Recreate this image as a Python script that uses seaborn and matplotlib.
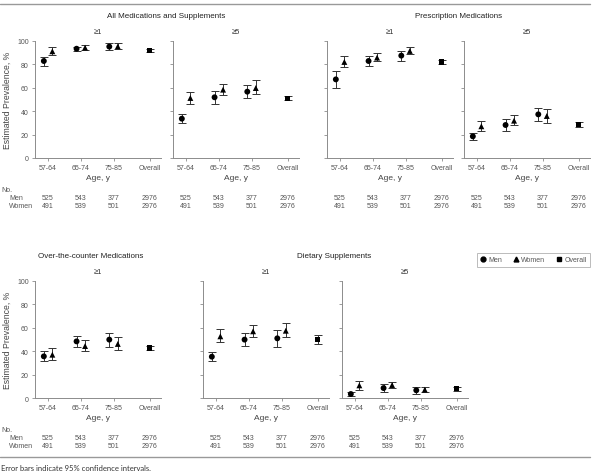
import matplotlib
matplotlib.use("Agg")
import matplotlib.pyplot as plt
import matplotlib.transforms as mtransforms
from matplotlib.lines import Line2D
import pandas as pd
import seaborn as sns

ages = ["57-64", "65-74", "75-85"]
tick_labels = ages + ["Overall"]
n_men = [525, 543, 377, 2976]
n_women = [491, 539, 501, 2976]

# (estimate, lower 95% CI, upper 95% CI) per age group
all1_men = [(82.9, 78.9, 86.6), (93.4, 91.7, 94.9), (95.2, 92.3, 98.0)]
all1_women = [(91.2, 88.3, 94.6), (94.3, 92.3, 96.9), (95.4, 93.4, 98.0)]
all1_overall = (91.7, 90.3, 92.9)

all5_men = [(33.6, 29.6, 37.6), (51.9, 46.2, 57.3), (56.7, 51.6, 62.4)]
all5_women = [(51.3, 46.2, 56.7), (58.4, 53.8, 63.0), (59.8, 54.7, 66.4)]
all5_overall = (51.0, 49.3, 52.7)

rx1_men = [(67.2, 59.8, 74.4), (82.9, 78.9, 86.9), (87.5, 82.9, 91.7)]
rx1_women = [(82.1, 77.8, 87.2), (85.8, 82.6, 89.5), (91.5, 88.9, 94.6)]
rx1_overall = (82.1, 80.1, 83.8)

rx5_men = [(18.5, 15.1, 21.7), (28.2, 22.8, 33.3), (37.3, 31.9, 42.7)]
rx5_women = [(27.1, 23.1, 31.9), (31.9, 27.9, 36.5), (35.9, 30.2, 42.2)]
rx5_overall = (28.8, 26.8, 30.8)

otc1_men = [(35.6, 31.3, 40.5), (48.4, 43.6, 53.0), (49.9, 43.9, 55.8)]
otc1_women = [(37.0, 32.5, 42.7), (44.4, 40.5, 49.6), (46.2, 41.3, 51.9)]
otc1_overall = (42.7, 40.7, 44.7)

ds1_men = [(35.3, 31.6, 39.0), (49.9, 44.2, 55.8), (51.0, 43.6, 57.8)]
ds1_women = [(52.7, 47.9, 59.3), (57.0, 52.1, 62.7), (57.5, 51.9, 63.8)]
ds1_overall = (49.9, 46.4, 53.6)

ds5_men = [(3.4, 1.7, 5.1), (8.5, 5.1, 12.0), (6.6, 3.7, 9.4)]
ds5_women = [(10.8, 7.1, 14.2), (11.1, 8.5, 13.4), (7.1, 4.8, 9.7)]
ds5_overall = (8.0, 6.3, 9.4)

sns.set_theme(style="ticks")
plt.rcParams["font.family"] = ["Liberation Sans", "DejaVu Sans"]

W, H = 600, 477
fig = plt.figure(figsize=(6, 4.77), dpi=100)

GRAY = "#8c8c8c"
TXT = "#555555"
xpos = [0, 1, 2, 3.1]
dodge = 0.13


def rect(left, top, right, bottom):
    return [left / W, 1 - bottom / H, (right - left) / W, (bottom - top) / H]


panels = [
    ("≥1", all1_men, all1_women, all1_overall, rect(35, 42, 161, 159), True),
    ("≥5", all5_men, all5_women, all5_overall, rect(173, 42, 299, 159), False),
    ("≥1", rx1_men, rx1_women, rx1_overall, rect(327, 42, 453, 159), False),
    ("≥5", rx5_men, rx5_women, rx5_overall, rect(464, 42, 590, 159), False),
    ("≥1", otc1_men, otc1_women, otc1_overall, rect(35, 282, 161, 399), True),
    ("≥1", ds1_men, ds1_women, ds1_overall, rect(203, 282, 329, 399), False),
    ("≥5", ds5_men, ds5_women, ds5_overall, rect(342, 282, 468, 399), False),
]

for i, (sub, men, women, overall, r, first) in enumerate(panels):
    ax = fig.add_axes(r)
    rows = []
    for k, v in enumerate(men):
        rows.append(("Men", xpos[k] - dodge, *v))
    for k, v in enumerate(women):
        rows.append(("Women", xpos[k] + dodge, *v))
    rows.append(("Overall", xpos[3], *overall))
    df = pd.DataFrame(rows, columns=["group", "x", "est", "lo", "hi"])

    ax.errorbar(df["x"], df["est"], yerr=[df["est"] - df["lo"], df["hi"] - df["est"]],
                fmt="none", ecolor="#333333", elinewidth=0.7, capsize=2.8, capthick=0.7)
    sns.scatterplot(data=df, x="x", y="est", style="group",
                    markers={"Men": "o", "Women": "^", "Overall": "s"},
                    size="group", sizes={"Men": 18, "Women": 18, "Overall": 15},
                    color="black", edgecolor="none", linewidth=0, legend=False, ax=ax, zorder=3)

    ax.set_xlim(-0.4, 3.45)
    ax.set_ylim(0, 100)
    ax.set_xticks(xpos)
    ax.set_xticklabels(tick_labels)
    ax.set_yticks(range(0, 101, 20))
    if not first:
        ax.set_yticklabels([])
    sns.despine(ax=ax)
    for s in ["left", "bottom"]:
        ax.spines[s].set_color(GRAY)
        ax.spines[s].set_linewidth(0.7)
    ax.tick_params(length=2.5, width=0.6, color=GRAY, labelsize=5, labelcolor=TXT, pad=2)
    ax.set_xlabel("Age, y", fontsize=6, color="#444444", labelpad=2)
    if first:
        ax.set_ylabel("Estimated Prevalence, %", fontsize=6.2, color="#444444")
        ax.yaxis.set_label_coords(-0.185, 0.5)
    else:
        ax.set_ylabel("")
    ax.set_title(sub, fontsize=5.5, color="#333333", pad=6)

    # sample sizes under each panel
    top = i < 4
    blend = mtransforms.blended_transform_factory(ax.transData, fig.transFigure)
    y_men = 1 - (199 if top else 439) / H
    y_women = 1 - (207 if top else 447) / H
    for k, xp in enumerate(xpos):
        ax.text(xp, y_men, str(n_men[k]), transform=blend, ha="center", va="center",
                fontsize=5, color=TXT)
        ax.text(xp, y_women, str(n_women[k]), transform=blend, ha="center", va="center",
                fontsize=5, color=TXT)

for ytop in (191, 431):
    fig.text(1 / W, 1 - ytop / H, "No.", fontsize=5, color=TXT, va="center")
    fig.text(9 / W, 1 - (ytop + 8) / H, "Men", fontsize=5, color=TXT, va="center")
    fig.text(9 / W, 1 - (ytop + 16) / H, "Women", fontsize=5, color=TXT, va="center")

# group titles
fig.text(166 / W, 1 - 17 / H, "All Medications and Supplements", fontsize=5.8,
         color="#222222", ha="center", va="center")
fig.text(459 / W, 1 - 17 / H, "Prescription Medications", fontsize=5.8,
         color="#222222", ha="center", va="center")
fig.text(91 / W, 1 - 257 / H, "Over-the-counter Medications", fontsize=5.8,
         color="#222222", ha="center", va="center")
fig.text(334 / W, 1 - 257 / H, "Dietary Supplements", fontsize=5.8,
         color="#222222", ha="center", va="center")

# rules and footnote
fig.add_artist(Line2D([0, 590 / W], [1 - 5 / H, 1 - 5 / H], transform=fig.transFigure,
                      color="#999999", lw=1))
fig.add_artist(Line2D([0, 590 / W], [1 - 458 / H, 1 - 458 / H], transform=fig.transFigure,
                      color="#999999", lw=1))
fig.text(1 / W, 1 - 469 / H, "Error bars indicate 95% confidence intervals.",
         fontsize=5.5, color="#333333", va="center", family=["Lato", "DejaVu Sans"])

handles = [
    Line2D([], [], marker="o", ls="none", color="black", markersize=3.5, label="Men"),
    Line2D([], [], marker="^", ls="none", color="black", markersize=3.5, label="Women"),
    Line2D([], [], marker="s", ls="none", color="black", markersize=3.3, label="Overall"),
]
leg = fig.legend(handles=handles, ncol=3, loc="center", bbox_to_anchor=(533.5 / W, 1 - 261 / H),
                 fontsize=5, frameon=True, fancybox=False, edgecolor="#aaaaaa",
                 handlelength=0.8, handletextpad=0.4, columnspacing=1.5,
                 borderpad=0.5, labelcolor=TXT)
leg.get_frame().set_linewidth(0.7)

fig.savefig("out.png", dpi=100)
